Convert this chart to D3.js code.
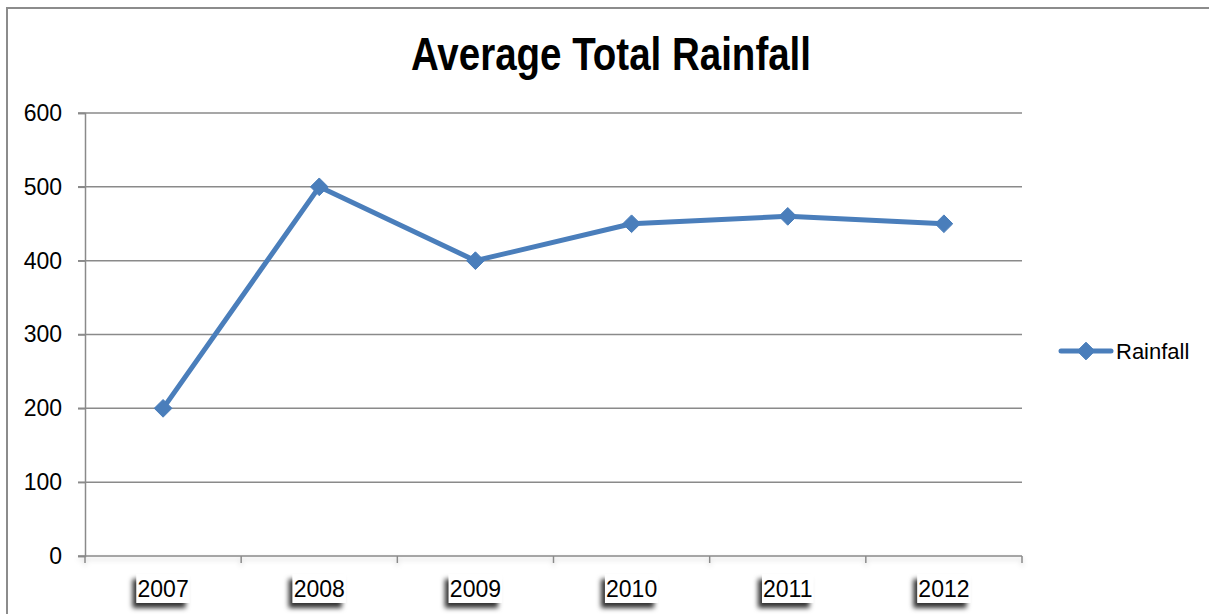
<!DOCTYPE html>
<html>
<head>
<meta charset="utf-8">
<script src="https://cdn.jsdelivr.net/npm/d3@7"></script>
<style>
  html, body { margin: 0; padding: 0; background: #fff; }
  svg { display: block; }
</style>
</head>
<body>
<svg id="chart" width="1209" height="614"></svg>
<script>
// Chart data
const years = ["2007", "2008", "2009", "2010", "2011", "2012"];
const rainfall = [200, 500, 400, 450, 460, 450];
const yTicks = [0, 100, 200, 300, 400, 500, 600];
const seriesName = "Rainfall";
const chartTitle = "Average Total Rainfall";

const svg = d3.select("#chart");
const W = 1209, H = 614;
const plot = { left: 85, right: 1022, top: 113, bottom: 556 };
const lineColor = "#4a7ebb";
const gridColor = "#8a8a8a";
const textFont = "'Liberation Sans', Arial, sans-serif";

// Shadow filters
const defs = svg.append("defs");
const lblShadow = defs.append("filter").attr("id", "lblShadow")
  .attr("x", "-40%").attr("y", "-40%").attr("width", "180%").attr("height", "200%");
lblShadow.append("feDropShadow")
  .attr("dx", -4).attr("dy", 5).attr("stdDeviation", 2.6)
  .attr("flood-color", "#000").attr("flood-opacity", 0.8);

const axisShadow = defs.append("filter").attr("id", "axisShadow")
  .attr("x", "-5%").attr("y", "-200%").attr("width", "110%").attr("height", "600%");
axisShadow.append("feDropShadow")
  .attr("dx", 0).attr("dy", 3).attr("stdDeviation", 2.5)
  .attr("flood-color", "#000").attr("flood-opacity", 0.18);

// Chart frame
svg.append("rect")
  .attr("x", 7).attr("y", 8).attr("width", W + 20).attr("height", H + 20)
  .attr("fill", "#fff").attr("stroke", "#8c8c8c").attr("stroke-width", 2);

// Title (condensed bold)
svg.append("text")
  .attr("x", 611).attr("y", 70)
  .attr("text-anchor", "middle")
  .attr("font-family", "'Liberation Sans Narrow', 'Liberation Sans', Arial, sans-serif")
  .attr("font-weight", "bold")
  .attr("font-size", 46)
  .attr("textLength", 400)
  .attr("lengthAdjust", "spacingAndGlyphs")
  .attr("fill", "#000")
  .text(chartTitle);

// Scales
const x = d3.scaleBand().domain(years).range([plot.left, plot.right]).padding(0);
const y = d3.scaleLinear().domain([0, 600]).range([plot.bottom, plot.top]);

// Horizontal gridlines (with left tick stubs)
svg.append("g")
  .selectAll("line")
  .data(yTicks.filter(d => d > 0))
  .join("line")
  .attr("x1", plot.left - 7).attr("x2", plot.right)
  .attr("y1", d => y(d)).attr("y2", d => y(d))
  .attr("stroke", gridColor).attr("stroke-width", 1.5);

// Y axis
const yAxis = svg.append("g")
  .attr("transform", `translate(${plot.left},0)`)
  .call(d3.axisLeft(y).tickValues(yTicks).tickSize(7).tickPadding(16).tickFormat(d3.format("d")));
yAxis.select(".domain").attr("stroke", gridColor).attr("stroke-width", 1.5);
yAxis.selectAll(".tick line").attr("stroke", gridColor).attr("stroke-width", 1.5);
yAxis.selectAll(".tick text")
  .attr("font-family", textFont).attr("font-size", 23).attr("fill", "#000");

// X axis with ticks at category boundaries
const xg = svg.append("g").attr("filter", "url(#axisShadow)");
xg.append("line")
  .attr("x1", plot.left - 7).attr("x2", plot.right)
  .attr("y1", plot.bottom).attr("y2", plot.bottom)
  .attr("stroke", gridColor).attr("stroke-width", 1.5);
const boundaries = years.map(d => x(d)).concat([x(years[years.length - 1]) + x.bandwidth()]);
xg.selectAll("line.xtick")
  .data(boundaries)
  .join("line")
  .attr("class", "xtick")
  .attr("x1", d => d).attr("x2", d => d)
  .attr("y1", plot.bottom).attr("y2", plot.bottom + 7)
  .attr("stroke", gridColor).attr("stroke-width", 1.5);

// Category labels in boxed, shadowed tags
const labels = svg.append("g")
  .selectAll("g")
  .data(years)
  .join("g")
  .attr("transform", d => `translate(${x(d) + x.bandwidth() / 2},0)`);
labels.each(function (d) {
  const g = d3.select(this);
  const t = g.append("text")
    .attr("x", 0).attr("y", 597)
    .attr("text-anchor", "middle")
    .attr("font-family", textFont).attr("font-size", 23).attr("fill", "#000")
    .text(d);
  const bb = t.node().getBBox();
  g.insert("rect", "text")
    .attr("x", bb.x - 1).attr("y", 574)
    .attr("width", bb.width + 2).attr("height", 29)
    .attr("fill", "#fff")
    .attr("filter", "url(#lblShadow)");
});

// Series line
const line = d3.line()
  .x((d, i) => x(years[i]) + x.bandwidth() / 2)
  .y(d => y(d));
svg.append("path")
  .datum(rainfall)
  .attr("d", line)
  .attr("fill", "none")
  .attr("stroke", lineColor)
  .attr("stroke-width", 5)
  .attr("stroke-linejoin", "round")
  .attr("stroke-linecap", "round");

// Diamond markers
const diamond = d3.symbol().type(d3.symbolDiamond2).size(200);
svg.append("g")
  .selectAll("path")
  .data(rainfall)
  .join("path")
  .attr("transform", (d, i) => `translate(${x(years[i]) + x.bandwidth() / 2},${y(d)})`)
  .attr("d", diamond)
  .attr("fill", lineColor)
  .attr("stroke", lineColor)
  .attr("stroke-width", 1);

// Legend
const legend = svg.append("g").attr("transform", "translate(1061,351)");
legend.append("line")
  .attr("x1", 0).attr("x2", 50).attr("y1", 0).attr("y2", 0)
  .attr("stroke", lineColor).attr("stroke-width", 5).attr("stroke-linecap", "round");
legend.append("path")
  .attr("transform", "translate(25,0)")
  .attr("d", diamond)
  .attr("fill", lineColor).attr("stroke", lineColor);
legend.append("text")
  .attr("x", 55).attr("y", 8)
  .attr("font-family", textFont).attr("font-size", 22).attr("fill", "#000")
  .text(seriesName);
</script>
</body>
</html>
